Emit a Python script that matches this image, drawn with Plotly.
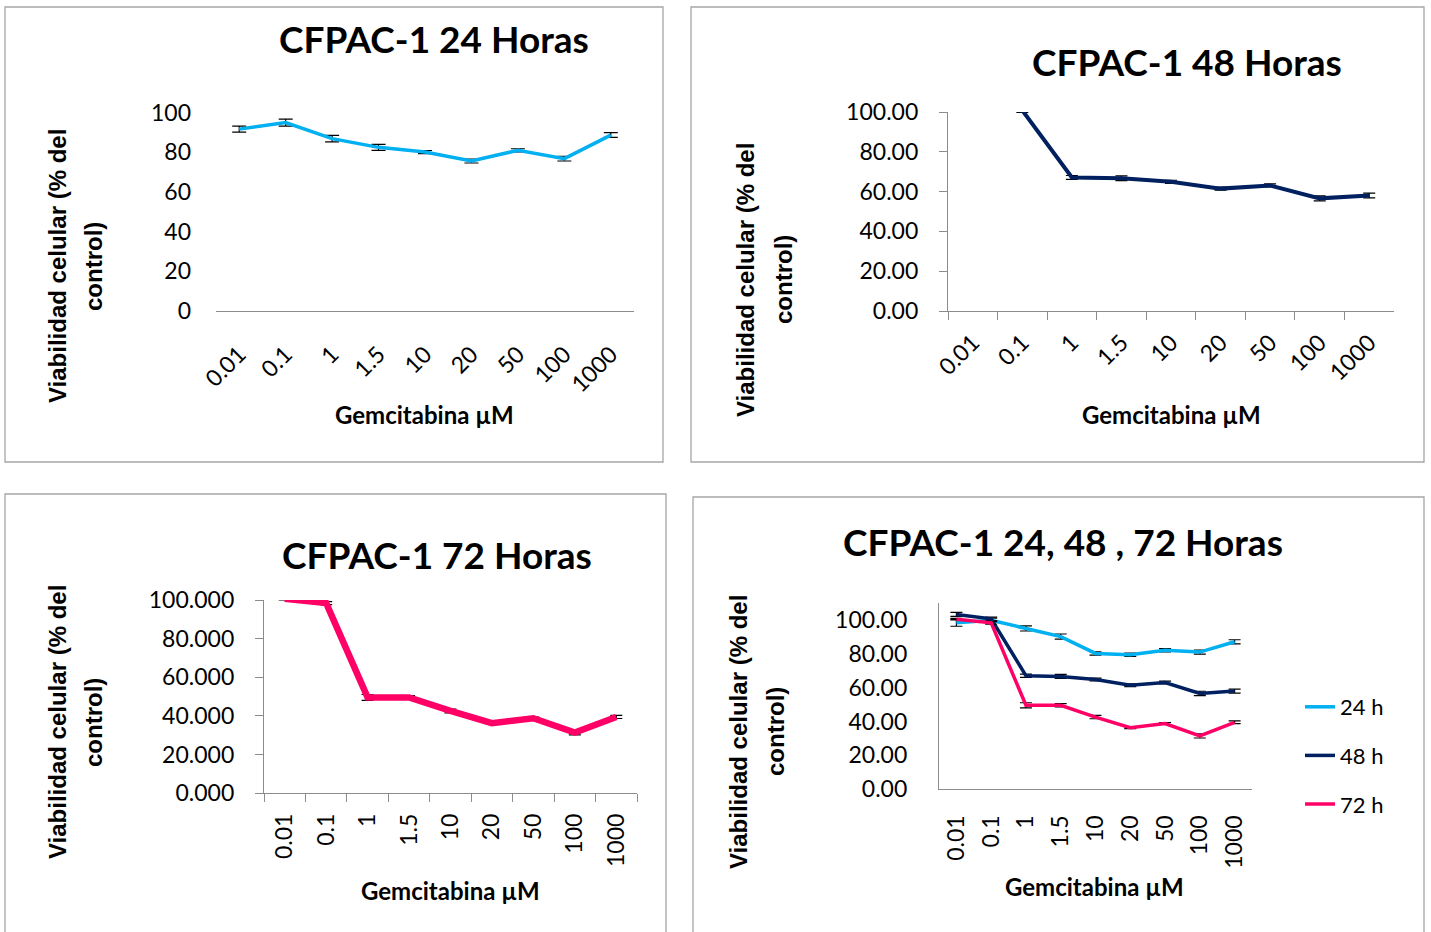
import plotly.graph_objects as go

# Gemcitabine concentrations (µM), shown as categories
dosis = ["0.01", "0.1", "1", "1.5", "10", "20", "50", "100", "1000"]

# Viability (% of control) and error bars
viab_24h_sola = [91.7, 95.0, 86.9, 82.5, 80.1, 75.6, 81.0, 76.8, 88.7]
err_24h_sola = [1.5, 1.8, 1.6, 1.5, 0.8, 1.0, 0.8, 1.2, 1.2]

viab_48h = [103.4, 100.8, 67.1, 66.7, 64.9, 61.5, 63.1, 56.6, 58.0]
err_48h = [1.2, 1.0, 1.0, 1.2, 0.8, 0.8, 0.8, 1.3, 1.2]

viab_72h = [100.6, 98.4, 49.6, 49.6, 42.6, 36.3, 38.8, 31.4, 39.5]
err_72h = [0.5, 0.8, 1.5, 1.0, 1.0, 0.5, 0.6, 1.2, 0.8]

viab_24h_conj = [98.4, 100.0, 95.1, 90.3, 80.3, 79.5, 82.2, 81.1, 87.2]
err_24h_conj = [2.0, 1.2, 1.5, 1.5, 1.0, 1.0, 1.0, 1.2, 1.2]

yticks = [0, 20, 40, 60, 80, 100]

C24 = "#00B0F0"
C48 = "#002060"
C72 = "#FF0066"
AXC = "#8C8C8C"

W, H = 1431, 932


def px(x):
    return x / W


def py(y):
    return 1 - y / H


TICKFONT = dict(family="Lato, Carlito, sans-serif", size=23, color="black")
TITLEFONT = dict(family="Lato, sans-serif", size=37, color="black")
XTFONT = dict(family="Lato, sans-serif", size=24, color="black")
YTFONT = dict(family="Liberation Sans, Arial, sans-serif", size=24, color="black")

fig = go.Figure()


def add_series(xa, ya, y, err, color, width, name, legend=False, ew=6):
    fig.add_trace(go.Scatter(
        x=dosis, y=y, mode="lines", name=name, showlegend=legend, legendgroup=name,
        line=dict(color=color, width=width),
        error_y=dict(type="data", array=err, color="black", thickness=1.2, width=ew),
        xaxis=xa, yaxis=ya, cliponaxis=True,
    ))


add_series("x", "y", viab_24h_sola, err_24h_sola, C24, 3.5, "24 h", ew=7)
add_series("x2", "y2", viab_48h, err_48h, C48, 4, "48 h", ew=6)
add_series("x3", "y3", viab_72h, err_72h, C72, 6.5, "72 h", ew=6)
add_series("x4", "y4", viab_24h_conj, err_24h_conj, C24, 3.5, "24 h", legend=True, ew=6)
add_series("x4", "y4", viab_48h, err_48h, C48, 3.5, "48 h", legend=True, ew=6)
add_series("x4", "y4", viab_72h, err_72h, C72, 3.5, "72 h", legend=True, ew=6)

cat_range = [-0.5, len(dosis) - 0.5]


def xaxis(dom, anchor, angle, ticks, standoff):
    d = dict(domain=dom, anchor=anchor, type="category", range=cat_range, automargin=False,
             showgrid=False, zeroline=False, showline=True, linecolor=AXC, linewidth=1.3,
             tickangle=angle, tickfont=TICKFONT, fixedrange=True,
             ticklabelstandoff=standoff)
    if ticks:
        d.update(ticks="outside", ticklen=8, tickcolor=AXC, tickwidth=1.3, tickson="boundaries")
    else:
        d.update(ticks="")
    return d


def yaxis(dom, anchor, rng, fmt, showline, ticks, standoff):
    d = dict(domain=dom, anchor=anchor, range=rng, tickvals=yticks, tickformat=fmt,
             automargin=False,
             showgrid=False, zeroline=False, showline=showline, linecolor=AXC, linewidth=1.3,
             tickfont=TICKFONT, fixedrange=True, ticklabelstandoff=standoff)
    if ticks:
        d.update(ticks="outside", ticklen=8, tickcolor=AXC, tickwidth=1.3)
    else:
        d.update(ticks="")
    return d


fig.update_layout(
    template="none",
    width=W, height=H, autosize=False,
    margin=dict(l=0, r=0, t=0, b=0, pad=0, autoexpand=False),
    paper_bgcolor="white", plot_bgcolor="white",
    xaxis=xaxis([px(216), px(634)], "y", -45, False, 20),
    yaxis=yaxis([py(310.7), py(112.7)], "x", [0, 100], "d", False, False, 24),
    xaxis2=xaxis([px(948), px(1394)], "y2", -45, True, 8),
    yaxis2=yaxis([py(311), py(112)], "x2", [0, 100], ".2f", True, True, 16),
    xaxis3=xaxis([px(264), px(637)], "y3", -90, True, 10),
    yaxis3=yaxis([py(793.3), py(600)], "x3", [0, 100], ".3f", True, True, 16),
    xaxis4=xaxis([px(939), px(1252)], "y4", -90, False, 16),
    yaxis4=yaxis([py(789), py(603.3)], "x4", [0, 110], ".2f", True, False, 26),
    legend=dict(x=px(1300), y=py(686), xanchor="left", yanchor="top",
                font=dict(family="Lato, sans-serif", size=22, color="black"),
                bgcolor="rgba(0,0,0,0)", tracegroupgap=17, traceorder="grouped",
                borderwidth=0),
)

# Chart frames
for x0, y0, x1, y1 in [(5, 7, 663, 462), (691, 7, 1424, 462),
                       (5, 494, 666, 940), (693, 497, 1424, 940)]:
    fig.add_shape(type="rect", xref="paper", yref="paper",
                  x0=px(x0), x1=px(x1), y0=py(y1), y1=py(y0),
                  line=dict(color="#A6A6A6", width=1.3), fillcolor="rgba(0,0,0,0)")

# Titles
for text, cx, cy in [("CFPAC-1 24 Horas", 434, 38), ("CFPAC-1 48 Horas", 1187, 61),
                     ("CFPAC-1 72 Horas", 437, 554), ("CFPAC-1 24, 48 , 72 Horas", 1063, 541)]:
    fig.add_annotation(text="<b>%s</b>" % text, x=px(cx), y=py(cy), xref="paper", yref="paper",
                       showarrow=False, font=TITLEFONT, xanchor="center", yanchor="middle")

# X-axis titles
for cx, cy in [(424, 414), (1171, 414), (450, 890), (1094, 886)]:
    fig.add_annotation(text="<b>Gemcitabina µM</b>", x=px(cx), y=py(cy), xref="paper", yref="paper",
                       showarrow=False, font=XTFONT, xanchor="center", yanchor="middle")

# Y-axis titles (two lines each)
for x1, x2, cy in [(57, 93, 266), (745, 783, 280), (57, 93, 722), (738, 775, 732)]:
    fig.add_annotation(text="<b>Viabilidad celular (% del</b>", x=px(x1), y=py(cy),
                       xref="paper", yref="paper", showarrow=False, textangle=-90,
                       font=YTFONT, xanchor="center", yanchor="middle")
    fig.add_annotation(text="<b>control)</b>", x=px(x2), y=py(cy),
                       xref="paper", yref="paper", showarrow=False, textangle=-90,
                       font=YTFONT, xanchor="center", yanchor="middle")

fig.write_html("out.html", post_script="document.body.style.margin='0';")
